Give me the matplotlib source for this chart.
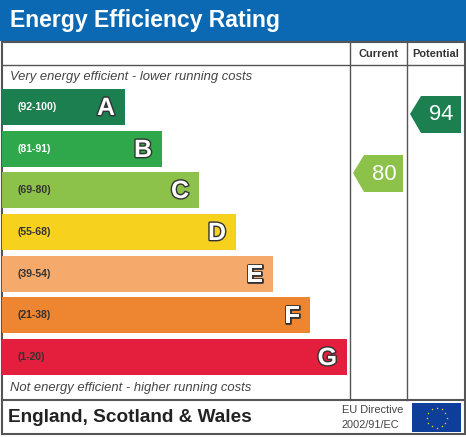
import matplotlib
matplotlib.use("Agg")
import matplotlib.pyplot as plt
import matplotlib.patheffects as pe
import numpy as np
from matplotlib.patches import Rectangle, Polygon

letters = ["A", "B", "C", "D", "E", "F", "G"]
ranges = ["(92-100)", "(81-91)", "(69-80)", "(55-68)", "(39-54)", "(21-38)", "(1-20)"]
lows = [92, 81, 69, 55, 39, 21, 1]
colors = ["#1b7f4f", "#2ea84a", "#8cc14a", "#f6d11e", "#f5aa6b", "#ee8530", "#e41f3e"]
label_colors = ["white", "white", "#333333", "#333333", "#333333", "#333333", "#333333"]
current = 80
potential = 94

W, H = 466, 437
fig = plt.figure(figsize=(W/100, H/100), dpi=100)
ax = fig.add_axes([0, 0, 1, 1])
ax.set_xlim(0, W); ax.set_ylim(H, 0); ax.axis("off")

def fs(px): return px * 0.72

ax.add_patch(Rectangle((0, 0), W, 40, color="#0b68b2"))
ax.text(10, 20, "Energy Efficiency Rating", color="white", fontsize=fs(23), fontweight="bold", va="center", family="Liberation Sans")

lc = "#555555"
ax.add_patch(Rectangle((1.5, 42), W-3, 392, fill=False, ec=lc, lw=1.5))
ax.plot([1.5, W-1.5], [65, 65], color=lc, lw=1)
ax.plot([1.5, W-1.5], [400, 400], color=lc, lw=1.5)
ax.plot([350, 350], [42, 400], color=lc, lw=1)
ax.plot([407, 407], [42, 400], color=lc, lw=1)
ax.text(378.5, 54, "Current", fontsize=fs(11), fontweight="bold", ha="center", va="center", color="#333", family="Liberation Sans")
ax.text(435.5, 54, "Potential", fontsize=fs(11), fontweight="bold", ha="center", va="center", color="#333", family="Liberation Sans")
ax.text(10, 77, "Very energy efficient - lower running costs", fontsize=fs(13), style="italic", va="center", color="#444", family="Liberation Sans")
ax.text(10, 388, "Not energy efficient - higher running costs", fontsize=fs(13), style="italic", va="center", color="#444", family="Liberation Sans")

tops = [89, 131, 172, 214, 256, 297, 339]
h = 36
for i, L in enumerate(letters):
    right = 125 + i * 37
    y = tops[i]
    ax.add_patch(Rectangle((2, y), right - 2, h, color=colors[i], lw=0))
    ax.text(18, y + h/2, ranges[i], fontsize=fs(10.5), fontweight="bold", va="center", color=label_colors[i], family="Liberation Sans")
    t = ax.text(right - 10, y + h/2 + 1, L, fontsize=fs(25), fontweight="bold", ha="right", va="center", color="white", family="Liberation Sans")
    t.set_path_effects([pe.Stroke(linewidth=2, foreground="#333"), pe.Normal()])

def band(v):
    for i, lo in enumerate(lows):
        if v >= lo: return i
    return 6

def arrow(v, x0, x1, y0):
    i = band(v)
    ym = y0 + 18
    ax.add_patch(Polygon([(x0, ym), (x0+11, y0), (x1, y0), (x1, y0+37), (x0+11, y0+37)], closed=True, color=colors[i], lw=0))
    ax.text((x0+x1)/2 + 6, ym + 1, str(v), fontsize=fs(22), ha="center", va="center", color="white", family="Liberation Sans")

arrow(current, 353, 403, 155)
arrow(potential, 410, 461, 96)

ax.text(8, 418, "England, Scotland & Wales", fontsize=fs(19), fontweight="bold", va="center", color="#222", family="Liberation Sans")
ax.text(342, 410, "EU Directive", fontsize=fs(11), va="center", color="#444", family="Liberation Sans")
ax.text(342, 425, "2002/91/EC", fontsize=fs(11), va="center", color="#444", family="Liberation Sans")
ax.add_patch(Rectangle((412, 403), 49, 29, color="#0d3f9a", lw=0))
ang = np.linspace(0, 2*np.pi, 13)[:-1]
ax.scatter(436.5 + 10*np.cos(ang), 417.5 + 10*np.sin(ang), marker="*", s=3, color="#ffdd00", zorder=5, linewidths=0)

fig.savefig("out.png", dpi=100)
